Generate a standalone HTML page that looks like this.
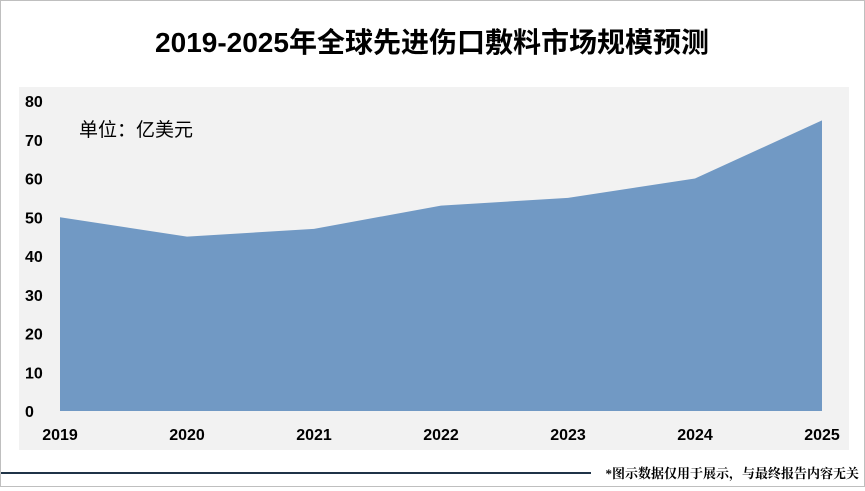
<!DOCTYPE html>
<html><head><meta charset="utf-8"><style>
body{margin:0;width:865px;height:487px;background:#fff;overflow:hidden;font-family:"Liberation Sans","Noto Sans CJK SC",sans-serif;}
#wrap{position:relative;width:863px;height:485px;border:1px solid #bfbfbf;}
</style></head><body>
<div id="wrap">
<svg width="863" height="485">
<text x="431" y="51" text-anchor="middle" font-size="28" font-weight="bold" fill="#000" font-family="Liberation Sans, Noto Sans CJK SC, sans-serif">2019-2025年全球先进伤口敷料市场规模预测</text>
<rect x="18" y="86" width="830" height="363" fill="#f2f2f2"/>
<text x="78" y="135" font-size="19" fill="#000" font-family="Liberation Sans, Noto Sans CJK SC, sans-serif">单位：亿美元</text>
<g id="yaxis"></g><g id="xaxis"></g><g id="area"></g>
<line x1="0" y1="472" x2="590" y2="472" stroke="#1f3347" stroke-width="2"/>
<text x="858" y="477" text-anchor="end" font-size="13" font-weight="bold" fill="#000" font-family="Liberation Serif, Noto Serif CJK SC, serif">*图示数据仅用于展示，与最终报告内容无关</text>
</svg>
</div>
<script>
const categories=["2019","2020","2021","2022","2023","2024","2025"];
const values=[50,45,47,53,55,60,75];
const yTicks=[0,10,20,30,40,50,60,70,80];
const NS="http://www.w3.org/2000/svg";
const x0=59,x1=821,yb=410,yt=100;
function xs(i){return x0+(x1-x0)*i/(categories.length-1);}
function ys(v){return yb-(yb-yt)*v/80;}
const ya=document.getElementById('yaxis'),xa=document.getElementById('xaxis'),ar=document.getElementById('area');
yTicks.forEach(t=>{const e=document.createElementNS(NS,'text');
e.setAttribute('x',24);e.setAttribute('y',ys(t)+6);e.setAttribute('font-size','16');e.setAttribute('font-weight','bold');
e.textContent=t;


ya.appendChild(e);});
categories.forEach((c,i)=>{const e=document.createElementNS(NS,'text');
e.setAttribute('x',xs(i));e.setAttribute('y',439);e.setAttribute('font-size','16');e.setAttribute('font-weight','bold');e.setAttribute('text-anchor','middle');
e.textContent=c;


xa.appendChild(e);});
let d='M'+xs(0)+','+yb;
values.forEach((v,i)=>{d+=' L'+xs(i)+','+ys(v);});
d+=' L'+xs(values.length-1)+','+yb+' Z';
const p=document.createElementNS(NS,'path');
p.setAttribute('d',d);p.setAttribute('fill','#7199c4');


ar.appendChild(p);
</script>
</body></html>
